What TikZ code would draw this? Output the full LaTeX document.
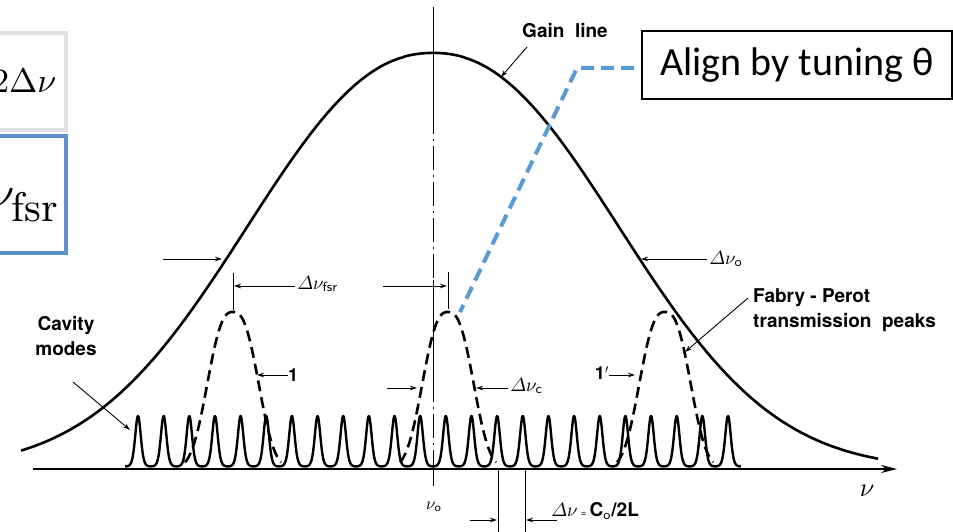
\documentclass[tikz,border=0pt]{standalone}
\usepackage{fontspec}
\setmainfont{TeX Gyre Heros}
\newfontfamily\calib{Carlito}
\newfontfamily\lmr{Latin Modern Roman}
\usetikzlibrary{arrows.meta}
\definecolor{boxgray}{HTML}{E0E0E0}
\definecolor{boxblue}{HTML}{5B8FC8}
\definecolor{lineblue}{HTML}{5B9BD5}
\begin{document}
\begin{tikzpicture}[x=1pt,y=-1pt,
  thinarrow/.style={line width=0.9pt,-{Stealth[length=7pt,width=4.5pt]}},
  ext/.style={line width=0.9pt},
  centerdash/.style={line width=0.9pt,dash pattern=on 24pt off 5pt on 2pt off 5pt},
  gainline/.style={line width=2.6pt},
  fpline/.style={line width=2.6pt,dash pattern=on 11pt off 6pt},
  modeline/.style={line width=2.4pt,line join=round},
  lbl/.style={font=\bfseries\fontsize{18}{22}\selectfont,inner sep=0pt},
  mlbl/.style={font=\fontsize{10}{12}\selectfont,inner sep=0pt,scale=1.9},
  blueline/.style={draw=lineblue,line width=4pt,dash pattern=on 13pt off 7pt},
]
\clip (0,0) rectangle (953,532);
\fill[white] (0,0) rectangle (953,532);

% left boxes (cut off)
\draw[line width=4pt,draw=boxgray,fill=white] (-20,33) rectangle (66,130);
\node[anchor=base east,inner sep=0pt,font=\fontsize{10}{12}\selectfont,scale=3.4] (tbtext) at (57,93) {$2\Delta\nu$};
\draw[line width=4pt,draw=boxblue,fill=white] (-20,136) rectangle (66,253);
\node[anchor=base east,inner sep=0pt,font=\fontsize{10}{12}\selectfont,scale=4.6] (bbtext) at (61,208) {$\Delta\nu_{\hbox{\fontsize{9}{9}\lmr fsr}}$};

% centre line
\coordinate (c1) at (433,7);
\coordinate (c2) at (433,110);
\coordinate (c3) at (433,280);
\coordinate (c4) at (433,378);
\coordinate (c5) at (433,469);
\coordinate (c6) at (433,486);
\draw[ext] (c1) -- (c2);
\draw[centerdash] (c2) -- (c3);
\draw[ext] (c3) -- (c4);
\draw[centerdash] (c4) -- (c5);
\draw[ext] (c5) -- (c6);

% axis
\coordinate (axL) at (33,469);
\coordinate (axR) at (897,469);
\draw[line width=1.6pt,-{Stealth[length=16pt,width=8pt]}] (axL) -- (axR);

% gain curve
\draw[gainline] plot[domain=21:878,samples=300] (\x,{469-416*exp(-pow(abs(\x-433)/245.7+0.0001,2.2))});

% cavity modes
\draw[modeline] plot[domain=125:741,samples=1500] (\x,{467-51*exp(2.2*(cos((\x-138)*14.034)-1))});

% Fabry-Perot peaks
\foreach \c in {233,448,665}{
  \pgfmathsetmacro\lo{\c-48}
  \pgfmathsetmacro\hi{\c+48}
  \draw[fpline] plot[domain=\lo:\hi,samples=90] (\x,{469-157*exp(-pow(abs(\x-\c)/31+0.0001,2.63))});
}

% extension lines at peak tops
\coordinate (e1a) at (233,273); \coordinate (e1b) at (233,310);
\coordinate (e2a) at (448,272); \coordinate (e2b) at (448,309);
\draw[ext] (e1a) -- (e1b);
\draw[ext] (e2a) -- (e2b);

% delta nu_o
\coordinate (g1) at (163,259); \coordinate (g1t) at (222,259);
\coordinate (g2) at (707,259); \coordinate (g2t) at (641,259);
\draw[thinarrow] (g1) -- (g1t);
\draw[thinarrow] (g2) -- (g2t);
\node[mlbl,anchor=west] (dnuo) at (709,259) {$\mathnormal{\Delta}\nu_{\mathsf{o}}$};

% delta nu_fsr
\coordinate (f1) at (295,286); \coordinate (f1t) at (234,286);
\coordinate (f2) at (383,286); \coordinate (f2t) at (447,286);
\draw[thinarrow] (f1) -- (f1t);
\draw[thinarrow] (f2) -- (f2t);
\node[mlbl,anchor=west] (dnufsr) at (297,284) {$\mathnormal{\Delta}\nu_{\mathsf{fsr}}$};

% delta nu_c
\coordinate (k1) at (387,388); \coordinate (k1t) at (417,388);
\coordinate (k2) at (508,388); \coordinate (k2t) at (476,388);
\draw[thinarrow] (k1) -- (k1t);
\draw[thinarrow] (k2) -- (k2t);
\node[mlbl,anchor=west] (dnuc) at (510,386) {$\mathnormal{\Delta}\nu_{\mathsf{c}}$};

% labels 1 and 1'
\node[lbl,anchor=west] (one) at (288,375) {1};
\coordinate (o1t) at (257,375);
\draw[thinarrow] (one.west) -- (o1t);
\node[lbl,anchor=east] (onep) at (609,373) {1$'$};
\coordinate (o2t) at (635,375);
\draw[thinarrow] (onep.east |- o2t) -- (o2t);

% cavity modes label
\node[lbl,align=center,font=\bfseries\fontsize{19}{25}\selectfont] (cav) at (66,336) {Cavity\\modes};
\coordinate (cava) at (73,382); \coordinate (cavt) at (130,430);
\draw[thinarrow] (cava) -- (cavt);

% gain line label
\node[lbl,font=\bfseries\fontsize{19}{22}\selectfont] (gain) at (565,31) {Gain\ \ line};
\coordinate (gaina) at (527,47); \coordinate (gaint) at (501,77);
\draw[thinarrow] (gaina) -- (gaint);

% Fabry-Perot label
\node[lbl,align=left,anchor=north west,font=\bfseries\fontsize{19}{25}\selectfont] (fp) at (753,288) {Fabry - Perot\\transmission\ \ peaks};
\coordinate (fpa) at (748,298); \coordinate (fpt) at (685,352);
\draw[thinarrow] (fpa) -- (fpt);

% mode spacing
\coordinate (s1a) at (498,469); \coordinate (s1b) at (498,532);
\coordinate (s2a) at (525,469); \coordinate (s2b) at (525,532);
\draw[ext] (s1a) -- (s1b);
\draw[ext] (s2a) -- (s2b);
\coordinate (m1) at (470,520); \coordinate (m1t) at (497,520);
\coordinate (m2) at (557,520); \coordinate (m2t) at (526,520);
\draw[thinarrow] (m1) -- (m1t);
\draw[thinarrow] (m2) -- (m2t);
\node[mlbl,anchor=west] (dnu) at (551,511) {$\mathnormal{\Delta}\nu$\,{\fontsize{5}{5}\selectfont=}\,\textbf{C$_{\mathsf{o}}$/2L}};

% axis labels
\node[inner sep=0pt,font=\fontsize{10}{12}\selectfont,scale=2.6] (nu) at (867,491) {$\nu$};
\node[inner sep=0pt,font=\fontsize{10}{12}\selectfont,scale=1.7] (nuo) at (434,507) {$\nu_{\mathsf{o}}$};

% align box
\node[draw,line width=1.6pt,minimum width=310pt,minimum height=68pt,inner sep=0pt,font=\calib\fontsize{40}{44}\selectfont] (align) at (797,65) {Align by tuning θ};
\coordinate (bend) at (577,68);
\coordinate (fptop) at (460,312);
\draw[blueline] ([xshift=-7pt]bend -| align.west) -- (bend) -- (fptop);
\end{tikzpicture}
\end{document}
